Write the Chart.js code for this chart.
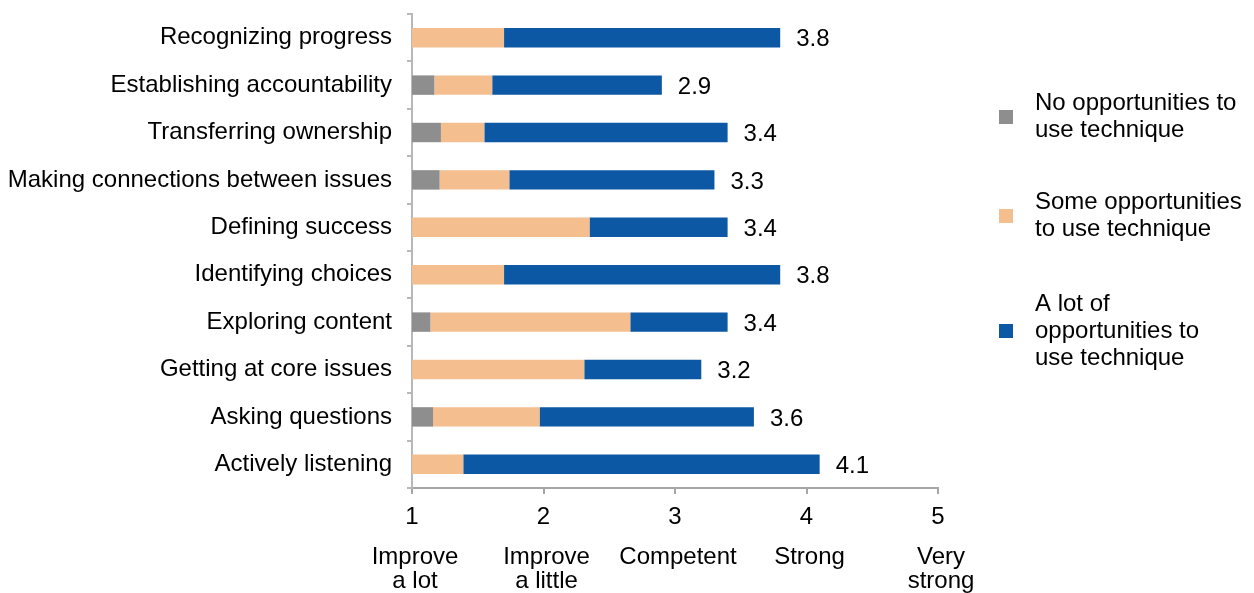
<!DOCTYPE html>
<html>
<head>
<meta charset="utf-8">
<script src="https://cdn.jsdelivr.net/npm/chart.js@4/dist/chart.umd.min.js"></script>
<style>
  html, body { margin: 0; padding: 0; background: #fff; }
  #wrap { width: 1254px; height: 593px; position: relative; }
</style>
</head>
<body>
<div id="wrap"><canvas id="chart"></canvas></div>
<script>
const categories = [
  'Recognizing progress',
  'Establishing accountability',
  'Transferring ownership',
  'Making connections between issues',
  'Defining success',
  'Identifying choices',
  'Exploring content',
  'Getting at core issues',
  'Asking questions',
  'Actively listening'
];

// where each segment ends on the 1-5 rating scale
const noOppEnd   = [1.00, 1.17, 1.22, 1.21, 1.00, 1.00, 1.14, 1.00, 1.16, 1.00];
const someOppEnd = [1.70, 1.61, 1.55, 1.74, 2.35, 1.70, 2.66, 2.31, 1.97, 1.39];
const overall    = [3.8, 2.9, 3.4, 3.3, 3.4, 3.8, 3.4, 3.2, 3.6, 4.1];

const seriesNames = [
  ['No opportunities to', 'use technique'],
  ['Some opportunities', 'to use technique'],
  ['A lot of', 'opportunities to', 'use technique']
];
const seriesColors = ['#8e8e8e', '#f4be8f', '#0c58a5'];

const ratingTicks = [1, 2, 3, 4, 5];
const ratingWords = [['Improve', 'a lot'], ['Improve', 'a little'], ['Competent'], ['Strong'], ['Very', 'strong']];

const FONT = 'Liberation Sans, Arial, Helvetica, sans-serif';
const FS = 24;

const ranges = (from, to) => from.map((s, i) => [s, to[i]]);
const segments = [
  ranges(categories.map(() => 1), noOppEnd),
  ranges(noOppEnd, someOppEnd),
  ranges(someOppEnd, overall)
];

// totals at the end of each bar
const totalsPlugin = {
  id: 'totals',
  afterDatasetsDraw(chart) {
    const { ctx, scales: { x, y } } = chart;
    ctx.save();
    ctx.font = `${FS}px ${FONT}`;
    ctx.fillStyle = '#000';
    ctx.textAlign = 'left';
    ctx.textBaseline = 'middle';
    overall.forEach((v, i) => {
      ctx.fillText(v.toFixed(1), x.getPixelForValue(v) + 16, y.getPixelForValue(i) + 2);
    });
    ctx.restore();
  }
};

// verbal meaning of each rating under the numbers
const ratingWordsPlugin = {
  id: 'ratingWords',
  afterDraw(chart) {
    const { ctx, scales: { x } } = chart;
    ctx.save();
    ctx.font = `${FS}px ${FONT}`;
    ctx.fillStyle = '#000';
    ctx.textAlign = 'center';
    ctx.textBaseline = 'middle';
    ratingWords.forEach((lines, i) => {
      const px = x.getPixelForValue(ratingTicks[i]);
      lines.forEach((t, j) => ctx.fillText(t, px + 3, 557 + j * 24));
    });
    ctx.restore();
  }
};

// legend on the right with wrapped labels
const sideLegendPlugin = {
  id: 'sideLegend',
  afterDraw(chart) {
    const { ctx } = chart;
    const centers = [117, 216, 331];
    ctx.save();
    ctx.font = `${FS}px ${FONT}`;
    ctx.textAlign = 'left';
    ctx.textBaseline = 'middle';
    seriesNames.forEach((lines, i) => {
      ctx.fillStyle = seriesColors[i];
      ctx.fillRect(999, centers[i] - 7, 14, 14);
      ctx.fillStyle = '#000';
      const top = centers[i] - (lines.length - 1) * 13.5;
      lines.forEach((t, j) => ctx.fillText(t, 1035, top + j * 27));
    });
    ctx.restore();
  }
};

new Chart(document.getElementById('chart'), {
  type: 'bar',
  data: {
    labels: categories,
    datasets: segments.map((data, i) => ({
      label: seriesNames[i].join(' '),
      data,
      backgroundColor: seriesColors[i],
      borderWidth: 0,
      barPercentage: 0.41,
      categoryPercentage: 1
    }))
  },
  options: {
    indexAxis: 'y',
    responsive: true,
    maintainAspectRatio: false,
    animation: false,
    layout: { padding: { top: 14, right: 316, bottom: 0, left: 0 } },
    plugins: {
      legend: { display: false },
      tooltip: { enabled: false }
    },
    scales: {
      x: {
        min: 1,
        max: 5,
        stacked: false,
        afterFit: (s) => { s.height = 105; },
        ticks: {
          stepSize: 1,
          color: '#000',
          padding: 9,
          font: { family: FONT, size: FS }
        },
        grid: { display: true, drawOnChartArea: false, tickLength: 6, color: '#a6a6a6', lineWidth: 2 },
        border: { color: '#a6a6a6', width: 2 }
      },
      y: {
        stacked: true,
        afterFit: (s) => {
          s.width = 412;
          s.paddingTop = 0;
          s.paddingBottom = 0;
        },
        ticks: {
          color: '#000',
          padding: 15,
          font: { family: FONT, size: FS }
        },
        grid: { display: true, drawOnChartArea: false, offset: true, tickLength: 5, color: '#b8b8b8', lineWidth: 2 },
        border: { color: '#b8b8b8', width: 2, dash: [2, 3] }
      }
    }
  },
  plugins: [totalsPlugin, ratingWordsPlugin, sideLegendPlugin]
});
</script>
</body>
</html>
